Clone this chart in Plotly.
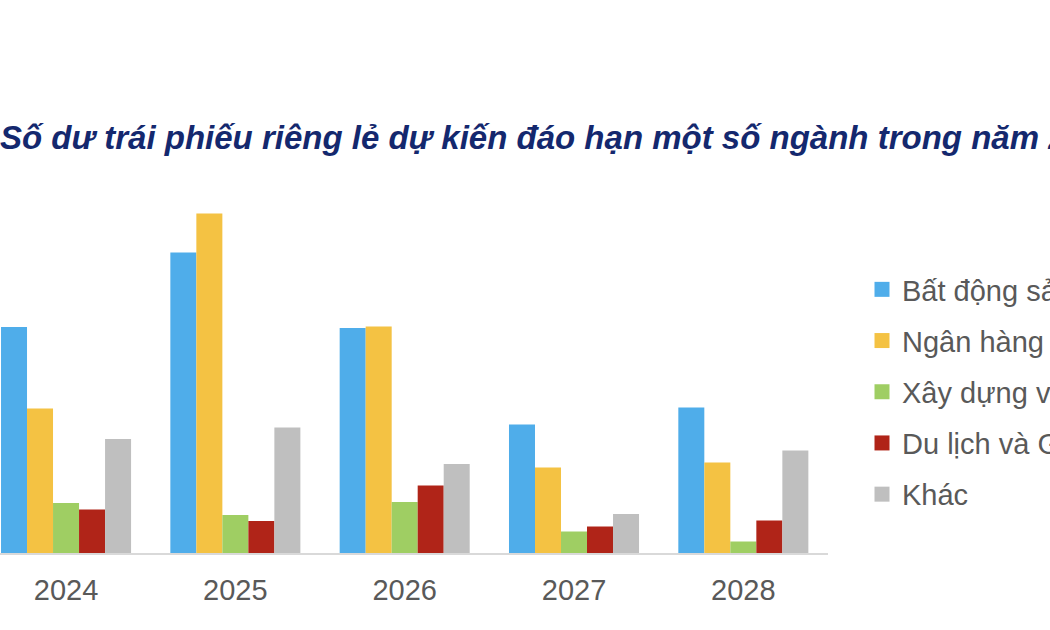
import plotly.graph_objects as go

years = ["2024", "2025", "2026", "2027", "2028"]
sectors = ["Bất động sản", "Ngân hàng", "Xây dựng và Vật liệu xây dựng", "Du lịch và Giải trí", "Khác"]
colors = ["#4FADEA", "#F4C243", "#9FCE63", "#B02418", "#BFBFBF"]

bat_dong_san = [45.2, 60.1, 45.0, 25.7, 29.1]
ngan_hang = [28.9, 67.9, 45.3, 17.1, 18.1]
xay_dung = [10.0, 7.6, 10.2, 4.3, 2.3]
du_lich = [8.7, 6.4, 13.5, 5.3, 6.5]
khac = [22.8, 25.1, 17.8, 7.8, 20.5]
series = [bat_dong_san, ngan_hang, xay_dung, du_lich, khac]

title_text = "Số dư trái phiếu riêng lẻ dự kiến đáo hạn một số ngành trong năm 2024-2028 (nghìn tỷ đồng)"

fig = go.Figure()
for name, vals, col in zip(sectors, series, colors):
    fig.add_trace(go.Bar(x=years, y=vals, name=name, marker=dict(color=col, line=dict(width=0)),
                         showlegend=False))
# legend entries with larger square symbols
for i, (name, col) in enumerate(zip(sectors, colors)):
    fig.add_trace(go.Scatter(x=[None], y=[None], mode="markers", name=name,
                             legendgroup=f"g{i}",
                             marker=dict(symbol="square", size=15, color=col)))

fig.update_layout(
    width=1050, height=630,
    paper_bgcolor="white", plot_bgcolor="white",
    margin=dict(l=0, r=222, t=190, b=77, autoexpand=False),
    barmode="group", bargap=0.232, bargroupgap=0,
    font=dict(family="Liberation Sans, Arial, sans-serif", color="#595959"),
    title=dict(text=title_text, x=0, xref="container", xanchor="left",
               y=1 - 137 / 630, yref="container", yanchor="middle",
               font=dict(size=33, color="#14286E", weight="bold", style="italic",
                         family="Liberation Sans, Arial, sans-serif")),
    legend=dict(x=862 / 1050, xref="container", xanchor="left",
                y=1 - 264 / 630, yref="container", yanchor="top",
                font=dict(size=29, color="#595959"),
                tracegroupgap=10.5, itemwidth=30, bgcolor="rgba(0,0,0,0)"),
    xaxis=dict(range=[-0.39, 4.5], showline=True, linecolor="#D9D9D9", linewidth=2,
               showgrid=False, ticks="", tickfont=dict(size=29, color="#595959"),
               ticklabelstandoff=10, fixedrange=True),
    yaxis=dict(range=[0, 72.6], visible=False, showgrid=False, fixedrange=True),
)

fig.write_html("out.html")
